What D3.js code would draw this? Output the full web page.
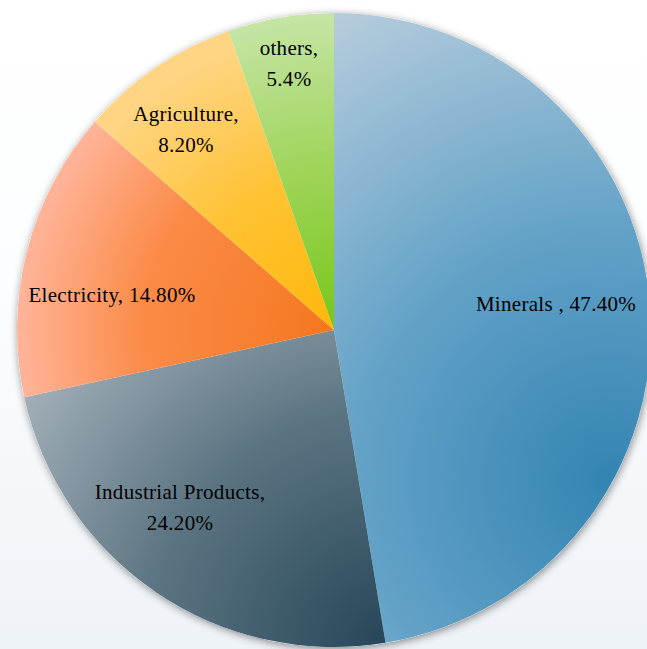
<!DOCTYPE html>
<html>
<head>
<meta charset="utf-8">
<script src="https://cdn.jsdelivr.net/npm/d3@7"></script>
<style>
  html, body { margin: 0; padding: 0; background: #fff; }
  svg { display: block; }
  .lbl { font-family: "Liberation Serif", "DejaVu Serif", serif; font-size: 21px; letter-spacing: 0.3px; fill: #000; }
</style>
</head>
<body>
<script>
// ---- data ----
const categories = ["Minerals ", "Industrial Products", "Electricity", "Agriculture", "others"];
const values = [47.4, 24.2, 14.8, 8.2, 5.4];
const valueLabels = ["47.40%", "24.20%", "14.80%", "8.20%", "5.4%"];

// ---- layout / style ----
const W = 647, H = 649;
const cx = 334, cy = 330, R = 317;
// label anchor (centre x, first baseline y), and whether split on two lines
const labelLayout = [
  { x: 556, y: 311, split: false },
  { x: 180, y: 499, split: true },
  { x: 112, y: 302, split: false },
  { x: 186, y: 121, split: true },
  { x: 289, y: 55, split: true }
];
// radial gradients per slice (coordinates relative to pie centre)
const gradients = [
  { fx: 276, fy: 150, r: 560, stops: [[0, "#3384b3"], [0.45, "#63a2c7"], [1, "#bccfde"]] },
  { fx: 51, fy: 315, r: 470, stops: [[0, "#264659"], [0.5, "#5b7482"], [1, "#adb8c0"]] },
  { fx: 0, fy: 0, r: 320, stops: [[0, "#f5771f"], [0.6, "#fb8b48"], [1, "#ffb59c"]] },
  { fx: 0, fy: 0, r: 300, stops: [[0, "#ffb70a"], [0.5, "#ffc232"], [1, "#ffd584"]] },
  { fx: 0, fy: 0, r: 320, stops: [[0, "#78c61a"], [0.5, "#9ed458"], [1, "#c6e5a6"]] }
];

const svg = d3.select("body").append("svg")
  .attr("width", W).attr("height", H);

const defs = svg.append("defs");
const bg = defs.append("linearGradient").attr("id", "bg")
  .attr("x1", 0).attr("y1", 0).attr("x2", 0).attr("y2", 1);
bg.append("stop").attr("offset", 0).attr("stop-color", "#ffffff");
bg.append("stop").attr("offset", 0.45).attr("stop-color", "#fcfdfe");
bg.append("stop").attr("offset", 1).attr("stop-color", "#eef3f7");

gradients.forEach((g, i) => {
  const rg = defs.append("radialGradient").attr("id", "g" + i)
    .attr("gradientUnits", "userSpaceOnUse")
    .attr("cx", g.fx).attr("cy", g.fy).attr("r", g.r);
  g.stops.forEach(s => rg.append("stop").attr("offset", s[0]).attr("stop-color", s[1]));
});

const f = defs.append("filter").attr("id", "shadow")
  .attr("x", "-10%").attr("y", "-10%").attr("width", "120%").attr("height", "120%");
f.append("feDropShadow").attr("dx", 1).attr("dy", 2).attr("stdDeviation", 4)
  .attr("flood-color", "#000").attr("flood-opacity", 0.45);

svg.append("rect").attr("width", W).attr("height", H).attr("fill", "url(#bg)");

const pie = d3.pie().sort(null).value(d => d)(values);
const arc = d3.arc().innerRadius(0).outerRadius(R);

const g = svg.append("g").attr("transform", `translate(${cx},${cy})`);

// shadow disc
g.append("circle").attr("r", R).attr("fill", "#ffffff").attr("filter", "url(#shadow)");

g.selectAll("path.slice").data(pie).join("path")
  .attr("class", "slice")
  .attr("d", arc)
  .attr("fill", (d, i) => `url(#g${i})`);

const labels = svg.append("g").attr("text-anchor", "middle");

categories.forEach((c, i) => {
  const L = labelLayout[i];
  if (L.split) {
    labels.append("text").attr("class", "lbl").attr("x", L.x).attr("y", L.y).text(c + ",");
    labels.append("text").attr("class", "lbl").attr("x", L.x).attr("y", L.y + 31).text(valueLabels[i]);
  } else {
    labels.append("text").attr("class", "lbl").attr("x", L.x).attr("y", L.y).text(c + ", " + valueLabels[i]);
  }
});
</script>
</body>
</html>
